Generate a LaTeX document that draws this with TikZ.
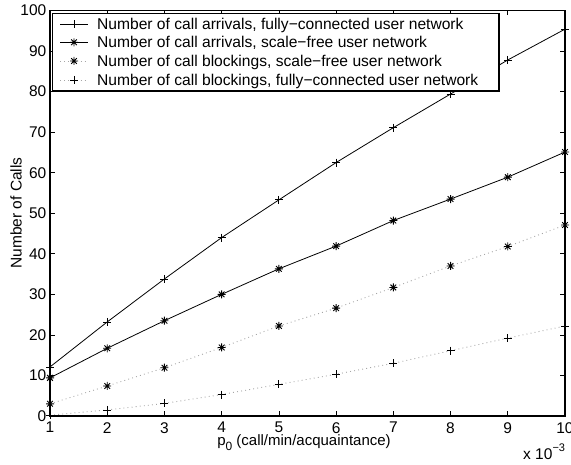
\documentclass[tikz,border=0pt]{standalone}
\usepackage{fontspec}
\setmainfont{Liberation Sans}
\pgfdeclareplotmark{mstar}{%
  \pgfpathmoveto{\pgfpoint{-\pgfplotmarksize}{0pt}}\pgfpathlineto{\pgfpoint{\pgfplotmarksize}{0pt}}%
  \pgfpathmoveto{\pgfpoint{0pt}{-\pgfplotmarksize}}\pgfpathlineto{\pgfpoint{0pt}{\pgfplotmarksize}}%
  \pgfpathmoveto{\pgfpoint{-.707\pgfplotmarksize}{-.707\pgfplotmarksize}}\pgfpathlineto{\pgfpoint{.707\pgfplotmarksize}{.707\pgfplotmarksize}}%
  \pgfpathmoveto{\pgfpoint{-.707\pgfplotmarksize}{.707\pgfplotmarksize}}\pgfpathlineto{\pgfpoint{.707\pgfplotmarksize}{-.707\pgfplotmarksize}}%
  \pgfusepathqstroke}
\tikzset{
  solidser/.style={line width=0.8pt, black},
  dotser/.style={line width=0.9pt, gray!70, dash pattern=on 0.9pt off 3.2pt},
  plusmk/.style={mark=+, mark size=4pt, mark options={solid, black, line width=0.8pt}},
  starmk/.style={mark=mstar, mark size=4pt, mark options={solid, black, line width=0.9pt}},
  ticklab/.style={inner sep=0pt, font=\fontsize{15.5}{17}\selectfont},
  legtext/.style={anchor=base west, inner sep=0pt, font=\fontsize{15.6}{17}\selectfont},
  axisline/.style={line width=1.2pt, black},
}
\begin{document}
\begin{tikzpicture}[x=1pt, y=1pt]
\useasboundingbox (0,0) rectangle (571,464);
\begin{scope}[shift={(-7.222pt,48pt)}, x=57.222pt, y=4.055pt]
  % ticks
  \foreach \i in {1,...,10} {
    \draw[line width=0.6pt] (\i,0) -- ++(0pt,5pt);
    \draw[line width=0.6pt] (\i,100) -- ++(0pt,-5pt);
    \node[ticklab, anchor=north] (xt\i) at ([yshift=-6pt]\i,0) {\i};
  }
  \foreach \v in {0,10,...,100} {
    \draw[line width=0.6pt] (1,\v) -- ++(5pt,0pt);
    \draw[line width=0.6pt] (10,\v) -- ++(-5pt,0pt);
    \node[ticklab, anchor=east] (yt\v) at ([xshift=-3.5pt]1,\v) {\v};
  }
  % data
  \draw[solidser] plot[plusmk] coordinates {(1,12.1) (2,23.2) (3,33.8) (4,44.0) (5,53.3) (6,62.5) (7,71.1) (8,79.4) (9,87.8) (10,95.4)};
  \draw[solidser] plot[starmk] coordinates {(1,9.4) (2,16.7) (3,23.5) (4,30.0) (5,36.3) (6,41.9) (7,48.2) (8,53.5) (9,58.9) (10,65.1)};
  \draw[dotser] plot[starmk] coordinates {(1,3.0) (2,7.4) (3,11.9) (4,16.9) (5,22.2) (6,26.6) (7,31.7) (8,37.0) (9,41.8) (10,47.1)};
  \draw[dotser] plot[plusmk] coordinates {(1,0.2) (2,1.5) (3,3.1) (4,5.3) (5,7.8) (6,10.3) (7,13.0) (8,16.1) (9,19.2) (10,22.2)};
  % axes box
  \draw[axisline] (1,0) rectangle (10,100);
\end{scope}
% legend
\draw[line width=1.1pt, fill=white] (52.3,373) rectangle (499,450.7);
\draw[solidser] (60,439.7) -- (88,439.7);
\draw[solidser] plot[plusmk] coordinates {(74,439.7)};
\draw[solidser] (60,421.7) -- (88,421.7);
\draw[solidser] plot[starmk] coordinates {(74,421.7)};
\draw[dotser] (60,403) -- (88,403);
\draw[dotser] plot[starmk] coordinates {(74,403)};
\draw[dotser] (60,384) -- (88,384);
\draw[dotser] plot[plusmk] coordinates {(74,384)};
\node[legtext] (l1) at (97,434.2) {Number of call arrivals, fully−connected user network};
\node[legtext] (l2) at (97,416.2) {Number of call arrivals, scale−free user network};
\node[legtext] (l3) at (97,397.5) {Number of call blockings, scale−free user network};
\node[legtext] (l4) at (97,378.5) {Number of call blockings, fully−connected user network};
% axis labels
\node[rotate=90, inner sep=0pt, font=\fontsize{15.5}{17}\selectfont] (ylab) at (16,251) {Number of Calls};
\node[anchor=base, inner sep=0pt, font=\fontsize{15}{17}\selectfont] (xlab) at (304,18.5) {p\raisebox{-4.5pt}{\fontsize{12}{12}\selectfont 0} (call/min/acquaintance)};
\node[anchor=base west, inner sep=0pt, font=\fontsize{15.5}{17}\selectfont] (xmul) at (523,5) {x 10\raisebox{8pt}{\fontsize{11}{11}\selectfont −3}};
\end{tikzpicture}
\end{document}
